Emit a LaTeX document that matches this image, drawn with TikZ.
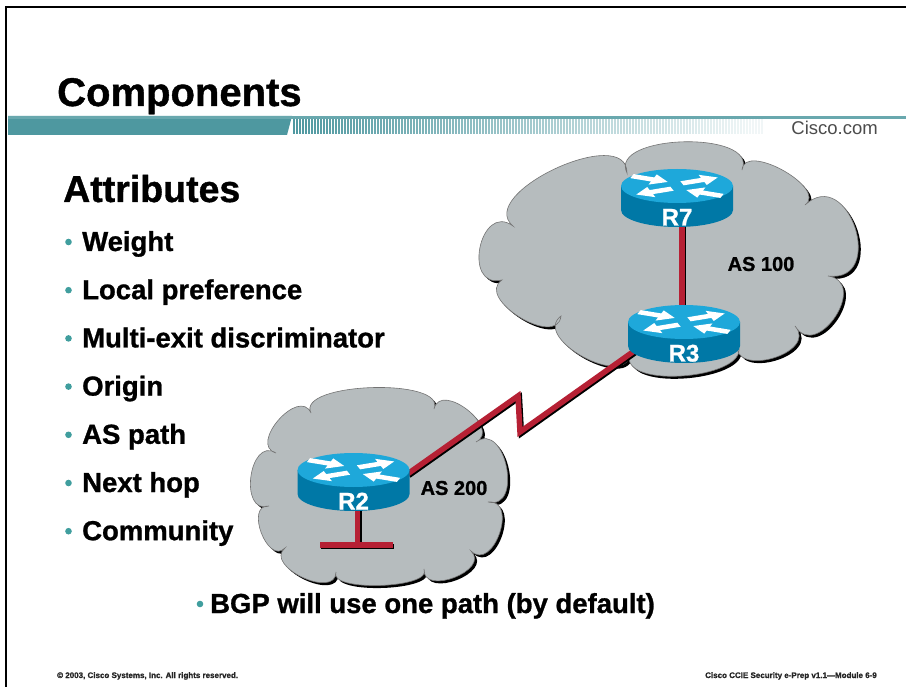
\documentclass[tikz,border=0pt]{standalone}
\usepackage{fontspec}
\setmainfont{Liberation Sans}[BoldFeatures={FakeBold=1}]
\usetikzlibrary{calc}

\definecolor{band}{RGB}{78,152,160}
\definecolor{dotteal}{RGB}{64,158,158}
\definecolor{cloudgray}{RGB}{182,188,190}
\definecolor{rtop}{RGB}{30,168,218}
\definecolor{rside}{RGB}{0,120,166}
\definecolor{wire}{RGB}{182,32,52}

\pgfdeclarelayer{paper}
\pgfdeclarelayer{clouds}
\pgfdeclarelayer{wires}
\pgfsetlayers{paper,clouds,wires,main}

% one white arrow of the router badge, drawn in the plane of the top face
\newcommand\routerarrow[3]{\fill[white,shift={(#1,#2)},rotate=#3]
  (0,-4.8) -- (22,-4.8) -- (22,-12) -- (38,0) -- (22,12) -- (22,4.8) -- (0,4.8) -- cycle;}

\tikzset{
  puff/.style={to path={.. controls ($(\tikztostart)!#1!115:(\tikztotarget)$)
      and ($(\tikztotarget)!#1!-115:(\tikztostart)$) .. (\tikztotarget)}},
  cloudbody/.style={fill=cloudgray, draw=black!55, line width=0.6},
  cloudshade/.style={fill=black, transform canvas={shift={(2.5pt,-2.5pt)}}},
  wirelink/.style={draw=wire, line width=5.5, line join=miter,
      preaction={draw=black, line width=5.5, line join=miter,
                 transform canvas={shift={(1.4pt,-1.4pt)}}}},
  routerlabel/.style={text=white, font=\bfseries\fontsize{24}{24}\selectfont,
      anchor=base, inner sep=0},
  aslabel/.style={font=\bfseries\fontsize{20}{20}\selectfont, inner sep=0},
  bullettext/.style={font=\bfseries\fontsize{27.5}{27.5}\selectfont,
      anchor=base west, inner sep=0},
  footer/.style={font=\bfseries\fontsize{8}{8}\selectfont, text=black!85,
      anchor=base, inner sep=0},
  router/.pic={
    \fill[rside] (-56,0) -- (-56,-24)
        arc[start angle=180,end angle=360,x radius=56,y radius=17] -- (56,0) -- cycle;
    \fill[rtop] (0,0) ellipse[x radius=56,y radius=17];
    \begin{scope}[yscale=0.45]
      \routerarrow{-45}{22}{-20}
      \routerarrow{5}{6}{20}
      \routerarrow{-5}{-6}{200}
      \routerarrow{45}{-22}{160}
    \end{scope}
    \node[routerlabel] (-name) at (0,-39.5) {#1};
    \coordinate (-top) at (0,0);
    \coordinate (-bottom) at (0,-36);
    \coordinate (-east) at (54,-4);
    \coordinate (-sw) at (-40,-22);
  },
}

\begin{document}
\begin{tikzpicture}[x=1pt,y=1pt]
  \useasboundingbox (0,0) rectangle (906,-687);
  \begin{pgfonlayer}{paper}
    \fill[white] (0,0) rectangle (906,-687);
  \end{pgfonlayer}

  % slide frame
  \draw[line width=2] (6,-687) -- (6,-7) -- (906,-7);

  % header band
  \fill[band] (8,-116) -- (292,-116) -- (287,-135) -- (8,-135) -- cycle;
  \fill[band!85] (8,-116) rectangle (906,-119);
  \foreach \x in {293,296,...,762} {
    \pgfmathsetmacro\op{max(0.08,1-(\x-290)/500)}
    \fill[band, opacity=\op] (\x,-119) rectangle ++(1.5,-15);
  }
  \node[anchor=base east, inner sep=0, text=black!70,
        font=\fontsize{18.5}{18.5}\selectfont] (site) at (878,-135) {Cisco.com};

  % title and list
  \node[anchor=base west, inner sep=0, font=\bfseries\fontsize{40}{40}\selectfont]
      (title) at (57,-106) {Components};
  \node[anchor=base west, inner sep=0, font=\bfseries\fontsize{37.5}{37.5}\selectfont]
      (attr) at (63,-202) {Attributes};
  \foreach \t [count=\i from 0] in {Weight, Local preference, Multi-exit discriminator,
      Origin, AS path, Next hop, Community} {
    \fill[dotteal] (68.5,{-(242+48.2*\i)}) circle (3.3);
    \node[bullettext] (item\i) at (82,{-(251+48.2*\i)}) {\t};
  }
  \fill[dotteal] (200,-604) circle (3.3);
  \node[bullettext] (bgp) at (210,-613) {BGP will use one path (by default)};

  % footer
  \node[footer, anchor=base west] (copy) at (57,-678)
      {\textcopyright\ 2003, Cisco Systems, Inc. All rights reserved.};
  \node[footer, anchor=base east] (course) at (877,-678)
      {Cisco CCIE Security e-Prep v1.1---Module 6-9};

  % routers
  \pic (r7) at (677,-186) {router=R7};
  \pic (r3) at (684,-322) {router=R3};
  \pic (r2) at (353.5,-470) {router=R2};

  \node[aslabel] (as100) at (761,-264) {AS 100};
  \node[aslabel] (as200) at (454,-488) {AS 200};

  % links
  \coordinate (z1) at (518,-396);
  \coordinate (z2) at (520,-432);
  \coordinate (lanL) at (320,-545);
  \coordinate (lanR) at (393,-545);
  \begin{pgfonlayer}{wires}
    \draw[wirelink] ([xshift=5pt]r7-bottom) -- ([xshift=5pt]r7-bottom |- r3-top);
    \draw[wirelink] (r2-east) -- (z1) -- (z2) -- (r3-sw);
    \draw[wirelink] ([xshift=4pt]r2-bottom) -- ([xshift=4pt]r2-bottom |- lanL);
    \draw[wirelink] (lanL) -- (lanR);
  \end{pgfonlayer}

  % clouds
  \coordinate (a1) at (513,-226);
  \coordinate (a2) at (627,-173);
  \coordinate (a3) at (742,-170);
  \coordinate (a4) at (805,-205);
  \coordinate (a5) at (828,-276);
  \coordinate (a6) at (795,-326);
  \coordinate (a7) at (737,-343);
  \coordinate (a8) at (630,-353);
  \coordinate (a9) at (561,-316);
  \coordinate (a10) at (502,-280);
  \newcommand\cloudhundred{(a1) to[puff=0.4] (a2) to[puff=0.38] (a3) to[puff=0.4] (a4)
    to[puff=0.8] (a5) to[puff=0.7] (a6) to[puff=0.6] (a7) to[puff=0.38] (a8)
    to[puff=0.48] (a9) to[puff=0.48] (a10) to[puff=0.75] (a1) -- cycle}
  \coordinate (b1) at (276,-453);
  \coordinate (b2) at (311,-413);
  \coordinate (b3) at (434,-409);
  \coordinate (b4) at (476,-442);
  \coordinate (b5) at (488,-502);
  \coordinate (b6) at (471,-551);
  \coordinate (b7) at (424,-569);
  \coordinate (b8) at (336,-572);
  \coordinate (b9) at (285,-548);
  \coordinate (b10) at (269,-506);
  \newcommand\cloudtwohundred{(b1) to[puff=0.55] (b2) to[puff=0.28] (b3) to[puff=0.55] (b4)
    to[puff=0.6] (b5) to[puff=0.6] (b6) to[puff=0.55] (b7) to[puff=0.25] (b8)
    to[puff=0.5] (b9) to[puff=0.55] (b10) to[puff=0.6] (b1) -- cycle}
  \begin{pgfonlayer}{clouds}
    \fill[cloudshade] \cloudhundred;
    \path[cloudbody] \cloudhundred;
    \fill[cloudshade] \cloudtwohundred;
    \path[cloudbody] \cloudtwohundred;
  \end{pgfonlayer}
\end{tikzpicture}
\end{document}
